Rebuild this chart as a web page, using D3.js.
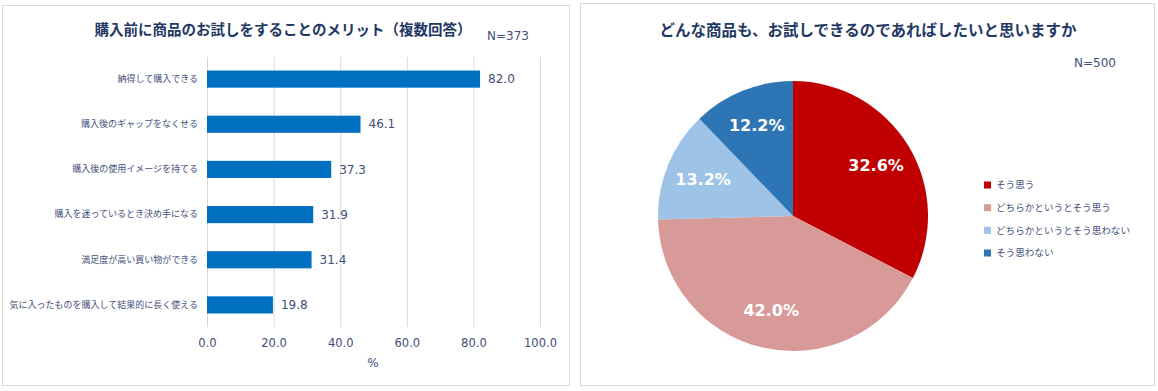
<!DOCTYPE html>
<html><head><meta charset="utf-8">
<script src="https://cdn.jsdelivr.net/npm/d3@7"></script>
<style>
html,body{margin:0;padding:0;background:#fff;}
svg{display:block;}
</style></head>
<body>
<svg id="chart" width="1158" height="391"></svg>
<script>
// ---- data ----
const barTitle = "購入前に商品のお試しをすることのメリット（複数回答）";
const barN = "N=373";
const barCategories = ["納得して購入できる","購入後のギャップをなくせる","購入後の使用イメージを持てる","購入を迷っているとき決め手になる","満足度が高い買い物ができる","気に入ったものを購入して結果的に長く使える"];
const barValues = [82.0, 46.1, 37.3, 31.9, 31.4, 19.8];
const barTicks = [0, 20, 40, 60, 80, 100];
const barAxisTitle = "%";

const pieTitle = "どんな商品も、お試しできるのであればしたいと思いますか";
const pieN = "N=500";
const pieCategories = ["そう思う","どちらかというとそう思う","どちらかというとそう思わない","そう思わない"];
const pieValues = [32.6, 42.0, 13.2, 12.2];
const pieColors = ["#C00000","#D89A99","#9DC3E6","#2E75B6"];

// ---- drawing ----
const svg = d3.select("#chart");
const JP = "'Noto Sans CJK JP','Noto Sans',sans-serif";
const NUM = "'DejaVu Sans',Verdana,sans-serif";
const txt = "#3F4E78";
const navy = "#1F3864";

// panel frames
svg.append("rect").attr("x",2.5).attr("y",5.5).attr("width",567).attr("height",380)
  .attr("fill","#fff").attr("stroke","#D9D9D9").attr("stroke-width",1);
svg.append("rect").attr("x",580.5).attr("y",3.5).attr("width",574).attr("height",382)
  .attr("fill","#fff").attr("stroke","#D9D9D9").attr("stroke-width",1);

// ---- bar chart ----
const x = d3.scaleLinear().domain([0,100]).range([207,540]);
const y = d3.scaleBand().domain(barCategories).range([56.5,327.5]).paddingInner(0.62).paddingOuter(0.31);

svg.append("text").attr("x",283).attr("y",35).attr("text-anchor","middle")
  .attr("font-family",JP).attr("font-weight","bold").attr("font-size","14.5px").attr("fill",navy).text(barTitle);
svg.append("text").attr("x",508).attr("y",40).attr("text-anchor","middle")
  .attr("font-family",NUM).attr("font-size","12px").attr("fill",txt).text(barN);

const gx = svg.append("g").attr("transform","translate(0,57)")
  .call(d3.axisBottom(x).tickValues(barTicks).tickSize(270).tickFormat(d3.format(".1f")).tickSizeOuter(0));
gx.select(".domain").remove();
gx.selectAll(".tick line").attr("stroke","#D9D9D9");
gx.selectAll(".tick text").attr("font-family",NUM).attr("font-size","11.5px").attr("fill",txt)
  .attr("y",286).attr("dy","0.32em");

svg.append("text").attr("x",373).attr("y",363).attr("dy","0.35em").attr("text-anchor","middle")
  .attr("font-family",NUM).attr("font-size","12px").attr("fill",txt).text(barAxisTitle);

const gy = svg.append("g").attr("transform","translate(207,0)")
  .call(d3.axisLeft(y).tickSize(0).tickPadding(9));
gy.select(".domain").remove();
gy.selectAll(".tick text").attr("font-family",JP).attr("font-size","9px").attr("fill",txt);

svg.append("g").selectAll("rect").data(barValues).join("rect")
  .attr("x",x(0)).attr("y",(d,i)=>y(barCategories[i]))
  .attr("width",d=>x(d)-x(0)).attr("height",y.bandwidth())
  .attr("fill","#0070C0");

svg.append("g").selectAll("text").data(barValues).join("text")
  .attr("x",d=>x(d)+8).attr("y",(d,i)=>y(barCategories[i])+y.bandwidth()/2).attr("dy","0.35em")
  .attr("font-family",NUM).attr("font-size","12px").attr("fill",txt)
  .text(d=>d.toFixed(1));

// ---- pie chart ----
svg.append("text").attr("x",868).attr("y",36).attr("text-anchor","middle")
  .attr("font-family",JP).attr("font-weight","bold").attr("font-size","15.5px").attr("fill",navy).text(pieTitle);
svg.append("text").attr("x",1095).attr("y",67).attr("text-anchor","middle")
  .attr("font-family",NUM).attr("font-size","12px").attr("fill",txt).text(pieN);

const R = 135;
const pie = d3.pie().sort(null).value(d=>d);
const arcs = pie(pieValues);
const arc = d3.arc().innerRadius(0).outerRadius(R);
const labelArc = d3.arc().innerRadius(R*0.72).outerRadius(R*0.72);
const gp = svg.append("g").attr("transform","translate(793,216)");
gp.selectAll("path").data(arcs).join("path").attr("d",arc).attr("fill",(d,i)=>pieColors[i]);
gp.selectAll("text").data(arcs).join("text")
  .attr("transform",d=>`translate(${labelArc.centroid(d)})`)
  .attr("text-anchor","middle").attr("dy","0.35em")
  .attr("font-family",NUM).attr("font-weight","bold").attr("font-size","16px").attr("fill","#fff")
  .text(d=>d.data.toFixed(1)+"%");

// legend
const lg = svg.append("g");
const ly = d3.scalePoint().domain(pieCategories).range([185,253]);
lg.selectAll("rect").data(pieCategories).join("rect")
  .attr("x",984).attr("y",d=>ly(d)-3.5).attr("width",7).attr("height",7)
  .attr("fill",(d,i)=>pieColors[i]);
lg.selectAll("text").data(pieCategories).join("text")
  .attr("x",996).attr("y",d=>ly(d)).attr("dy","0.35em")
  .attr("font-family",JP).attr("font-size","9.6px").attr("fill",txt).text(d=>d);
</script>
</body></html>
